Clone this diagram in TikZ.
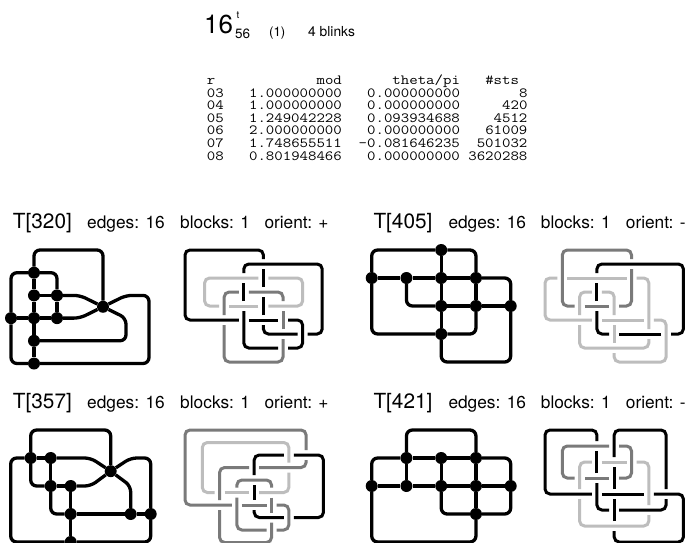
\documentclass[tikz,border=0pt]{standalone}
\usepackage{fontspec}
\setmainfont{TeX Gyre Heros}
\setmonofont[FakeStretch=1.17]{Latin Modern Mono}
\tikzset{
  vtx/.style={circle,fill=black,draw=none,inner sep=0pt,minimum size=12pt},
  ed/.style={draw=black,line width=3.3pt,rounded corners=6pt},
  lk/.style={line width=3pt,rounded corners=5pt,shorten >=5pt,shorten <=5pt},
  blk/.style={lk,draw=black},
  drk/.style={lk,draw=black!52},
  lgt/.style={lk,draw=black!26},
  lab/.style={anchor=base west,inner sep=0pt,font=\fontsize{17.3}{18}\selectfont},
  tlab/.style={anchor=base west,inner sep=0pt,font=\fontsize{20.8}{22}\selectfont},
  tbl/.style={anchor=base west,inner sep=0pt,font=\fontsize{14}{14}\selectfont\ttfamily},
  ttl/.style={anchor=base west,inner sep=0pt}
}
\begin{document}
\begin{tikzpicture}[x=1pt,y=-1pt]
\useasboundingbox (0,0) rectangle (686,542);
\clip (0,0) rectangle (686,542);
\fill[white] (0,0) rectangle (686,542);
% title
\node[ttl,font=\fontsize{26}{26}\selectfont] (big) at (204,33) {16};
\node[ttl,font=\fontsize{10}{10}\selectfont] (sup) at (236.5,18) {t};
\node[ttl,font=\fontsize{13.5}{14}\selectfont] (sub) at (235,38.5) {56};
\node[ttl,font=\fontsize{13.2}{14}\selectfont] (par) at (269,36) {(1)};
\node[ttl,font=\fontsize{13.8}{14}\selectfont] (bl) at (308,36) {4 blinks};
% table
\node[tbl] (t0) at (206.7,84) {r~~~~~~~~~~~~mod~~~~~~theta/pi~~~\#sts};
\node[tbl] (t1) at (206.7,97) {03~~~1.000000000~~~0.000000000~~~~~~~8};
\node[tbl] (t2) at (206.7,109.6) {04~~~1.000000000~~~0.000000000~~~~~420};
\node[tbl] (t3) at (206.7,122.2) {05~~~1.249042228~~~0.093934688~~~~4512};
\node[tbl] (t4) at (206.7,134.8) {06~~~2.000000000~~~0.000000000~~~61009};
\node[tbl] (t5) at (206.7,147.4) {07~~~1.748655511~~-0.081646235~~501032};
\node[tbl] (t6) at (206.7,160) {08~~~0.801948466~~~0.000000000~3620288};
% labels
\node[tlab] (l1) at (12.7,228.5) {T[320]};
\node[lab] (l2) at (87,228.5) {edges: 16};
\node[lab] (l3) at (180,228.5) {blocks: 1};
\node[lab] (l4) at (264.3,228.5) {orient: +};
\node[tlab] (l5) at (373.3,228.5) {T[405]};
\node[lab] (l6) at (448.3,228.5) {edges: 16};
\node[lab] (l7) at (540.7,228.5) {blocks: 1};
\node[lab] (l8) at (625.7,228.5) {orient: -};
\node[tlab] (l9) at (12.7,408.5) {T[357]};
\node[lab] (l10) at (87,408.5) {edges: 16};
\node[lab] (l11) at (180,408.5) {blocks: 1};
\node[lab] (l12) at (264.3,408.5) {orient: +};
\node[tlab] (l13) at (373.3,408.5) {T[421]};
\node[lab] (l14) at (448.3,408.5) {edges: 16};
\node[lab] (l15) at (540.7,408.5) {blocks: 1};
\node[lab] (l16) at (625.7,408.5) {orient: -};
% T[320] graph
\begin{scope}[shift={(11,250)},x=23pt,y=-22.7pt]
\node[vtx] (a) at (1,1) {}; \node[vtx] (b) at (1,2) {}; \node[vtx] (c) at (2,2) {};
\node[vtx] (d) at (0,3) {}; \node[vtx] (e) at (1,3) {}; \node[vtx] (f) at (2,3) {};
\node[vtx] (g) at (1,4) {}; \node[vtx] (h) at (1,5) {}; \node[vtx] (m) at (4,2.5) {};
\draw[ed] (a) -- (1,0) -- (4,0) -- (m);
\draw[ed] (d) -- (0,1) -- (a);
\draw[ed] (a) -- (2,1) -- (c);
\draw[ed] (a) -- (b); \draw[ed] (b) -- (e); \draw[ed] (e) -- (g); \draw[ed] (g) -- (h);
\draw[ed] (b) -- (c); \draw[ed] (c) -- (f); \draw[ed] (d) -- (e); \draw[ed] (e) -- (f);
\draw[ed] (c) -- (3,2) -- (m);
\draw[ed] (f) -- (3,3) -- (m);
\draw[ed] (m) -- (5,2) -- (6,2) -- (6,5) -- (h);
\draw[ed] (m) -- (5,3) -- (5,4) -- (g);
\draw[ed] (d) -- (0,5) -- (h);
\end{scope}
% T[320] link
\begin{scope}[shift={(185,250)},x=19.6pt,y=-14pt]
\draw[lgt] (4,2)--(6,2)--(6,4)--(4,4);
\draw[lgt] (4,4)--(3,4)--(2,4);
\draw[lgt] (2,4)--(1,4)--(1,2)--(4,2);
\draw[drk] (5,4)--(5,3)--(3,3);
\draw[drk] (3,3)--(2,3)--(2,5);
\draw[drk] (2,5)--(2,8)--(5,8)--(5,6);
\draw[drk] (5,6)--(5,4);
\draw[blk] (4,1)--(4,0)--(0,0)--(0,5)--(3,5);
\draw[blk] (3,5)--(4,5)--(5,5);
\draw[blk] (5,5)--(6,5)--(6,7)--(5,7);
\draw[blk] (5,7)--(3,7)--(3,4);
\draw[blk] (3,4)--(3,2);
\draw[blk] (3,2)--(3,1)--(7,1)--(7,6)--(6,6);
\draw[blk] (6,6)--(4,6)--(4,5);
\draw[blk] (4,5)--(4,3);
\draw[blk] (4,3)--(4,1);
\end{scope}
% T[405] graph
\begin{scope}[shift={(371.7,250)},x=34.75pt,y=-28pt]
\node[vtx] (A) at (2,0) {}; \node[vtx] (B) at (0,1) {}; \node[vtx] (C) at (1,1) {};
\node[vtx] (D) at (2,1) {}; \node[vtx] (E) at (3,1) {}; \node[vtx] (F) at (2,2) {};
\node[vtx] (G) at (3,2) {}; \node[vtx] (H) at (4,2) {}; \node[vtx] (I) at (2,3) {};
\draw[ed] (B) -- (0,0) -- (A);
\draw[ed] (A) -- (3,0) -- (E);
\draw[ed] (B) -- (C); \draw[ed] (C) -- (D); \draw[ed] (D) -- (E);
\draw[ed] (E) -- (4,1) -- (H);
\draw[ed] (A) -- (D); \draw[ed] (D) -- (F); \draw[ed] (F) -- (I);
\draw[ed] (C) -- (1,2) -- (F);
\draw[ed] (F) -- (G); \draw[ed] (G) -- (H); \draw[ed] (E) -- (G);
\draw[ed] (G) -- (3,3) -- (I);
\draw[ed] (B) -- (0,3) -- (I);
\draw[ed] (I) -- (2,4) -- (4,4) -- (H);
\end{scope}
% T[405] link
\begin{scope}[shift={(545,250)},x=17.3pt,y=-14pt]
\draw[lgt] (5,2)--(6,2)--(6,6);
\draw[lgt] (6,6)--(6,7)--(2,7)--(2,5);
\draw[lgt] (2,5)--(2,3)--(3,3);
\draw[lgt] (3,3)--(4,3)--(4,5);
\draw[lgt] (4,5)--(4,7);
\draw[lgt] (4,7)--(4,8)--(7,8)--(7,5)--(6,5);
\draw[lgt] (6,5)--(4,5)--(3,5);
\draw[lgt] (3,5)--(0,5)--(0,2)--(1,2);
\draw[lgt] (1,2)--(3,2)--(5,2);
\draw[drk] (5,1)--(5,0)--(1,0)--(1,4)--(2,4);
\draw[drk] (2,4)--(3,4)--(4,4);
\draw[drk] (4,4)--(5,4)--(5,1);
\draw[blk] (3,2)--(3,1)--(8,1)--(8,6)--(7,6);
\draw[blk] (7,6)--(5,6)--(4,6);
\draw[blk] (4,6)--(3,6)--(3,4);
\draw[blk] (3,4)--(3,2);
\end{scope}
% T[357] graph
\begin{scope}[shift={(10.7,430)},x=20pt,y=-28pt]
\node[vtx] (p) at (1,1) {}; \node[vtx] (q) at (2,1) {}; \node[vtx] (r) at (2,2) {};
\node[vtx] (s) at (3,2) {}; \node[vtx] (u) at (5,1.47) {}; \node[vtx] (v) at (3,3) {};
\node[vtx] (w) at (6,3) {}; \node[vtx] (y) at (7,3) {}; \node[vtx] (z) at (3,4) {};
\draw[ed] (p) -- (1,0) -- (5,0) -- (u);
\draw[ed] (p) -- (0,1) -- (0,4) -- (z);
\draw[ed] (p) -- (q);
\draw[ed] (p) -- (1,2) -- (r);
\draw[ed] (q) -- (r);
\draw[ed] (r) -- (2,3) -- (v);
\draw[ed] (r) -- (s);
\draw[ed] (s) -- (4,2) -- (u);
\draw[ed] (q) -- (4,1) -- (u);
\draw[ed] (u) -- (6,1) -- (7,1) -- (y);
\draw[ed] (u) -- (6,2) -- (w);
\draw[ed] (s) -- (v); \draw[ed] (v) -- (w); \draw[ed] (w) -- (y); \draw[ed] (v) -- (z);
\draw[ed] (y) -- (7,4) -- (z);
\end{scope}
% T[357] link
\begin{scope}[shift={(185,430)},x=17.3pt,y=-12.5pt]
\draw[lgt] (6,3)--(6,1)--(1,1)--(1,5)--(2,5);
\draw[lgt] (2,5)--(3,5)--(4,5);
\draw[lgt] (4,5)--(6,5)--(6,3);
\draw[drk] (3,6)--(4,6)--(5,6);
\draw[drk] (5,6)--(6,6)--(6,8)--(5,8);
\draw[drk] (5,8)--(3,8)--(3,5);
\draw[drk] (3,5)--(3,4)--(5,4)--(5,5);
\draw[drk] (5,5)--(5,7);
\draw[drk] (5,7)--(5,9)--(2,9)--(2,6);
\draw[drk] (2,6)--(2,3)--(4,3);
\draw[drk] (4,3)--(7,3)--(7,2);
\draw[drk] (7,2)--(7,0)--(0,0)--(0,6)--(3,6);
\draw[blk] (6,2)--(4,2)--(4,4);
\draw[blk] (4,4)--(4,6);
\draw[blk] (4,6)--(4,7)--(6,7);
\draw[blk] (6,7)--(8,7)--(8,2)--(6,2);
\end{scope}
% T[421] graph
\begin{scope}[shift={(371.7,430)},x=34.75pt,y=-28pt]
\node[vtx] (aa) at (1,1) {}; \node[vtx] (bb) at (2,1) {}; \node[vtx] (cc) at (3,1) {};
\node[vtx] (dd) at (0,2) {}; \node[vtx] (ee) at (1,2) {}; \node[vtx] (ff) at (2,2) {};
\node[vtx] (gg) at (3,2) {}; \node[vtx] (hh) at (4,2) {}; \node[vtx] (ii) at (3,3) {};
\draw[ed] (aa) -- (1,0) -- (3,0) -- (cc);
\draw[ed] (dd) -- (0,1) -- (aa);
\draw[ed] (aa) -- (bb); \draw[ed] (bb) -- (cc);
\draw[ed] (cc) -- (4,1) -- (hh);
\draw[ed] (aa) -- (ee); \draw[ed] (bb) -- (ff); \draw[ed] (cc) -- (gg);
\draw[ed] (dd) -- (ee); \draw[ed] (ee) -- (ff); \draw[ed] (ff) -- (gg); \draw[ed] (gg) -- (hh);
\draw[ed] (ff) -- (2,3) -- (ii);
\draw[ed] (gg) -- (ii);
\draw[ed] (hh) -- (4,3) -- (ii);
\draw[ed] (dd) -- (0,4) -- (3,4) -- (ii);
\end{scope}
% T[421] link
\begin{scope}[shift={(545,430)},x=17.3pt,y=-16pt]
\draw[lgt] (5,2)--(6,2)--(6,5);
\draw[lgt] (6,5)--(6,6)--(2,6)--(2,4);
\draw[lgt] (2,4)--(2,2)--(3,2);
\draw[lgt] (3,2)--(4,2)--(5,2);
\draw[drk] (4,1)--(5,1)--(5,3)--(4,3);
\draw[drk] (4,3)--(3,3)--(2,3);
\draw[drk] (2,3)--(1,3)--(1,1)--(4,1);
\draw[blk] (3,1)--(3,0)--(0,0)--(0,4)--(3,4);
\draw[blk] (3,4)--(4,4)--(6,4);
\draw[blk] (6,4)--(8,4)--(8,7)--(4,7)--(4,6);
\draw[blk] (4,6)--(4,4);
\draw[blk] (4,4)--(4,2);
\draw[blk] (4,2)--(4,0)--(7,0)--(7,4);
\draw[blk] (7,4)--(7,5)--(4,5);
\draw[blk] (4,5)--(3,5)--(3,3);
\draw[blk] (3,3)--(3,1);
\end{scope}
\end{tikzpicture}
\end{document}
